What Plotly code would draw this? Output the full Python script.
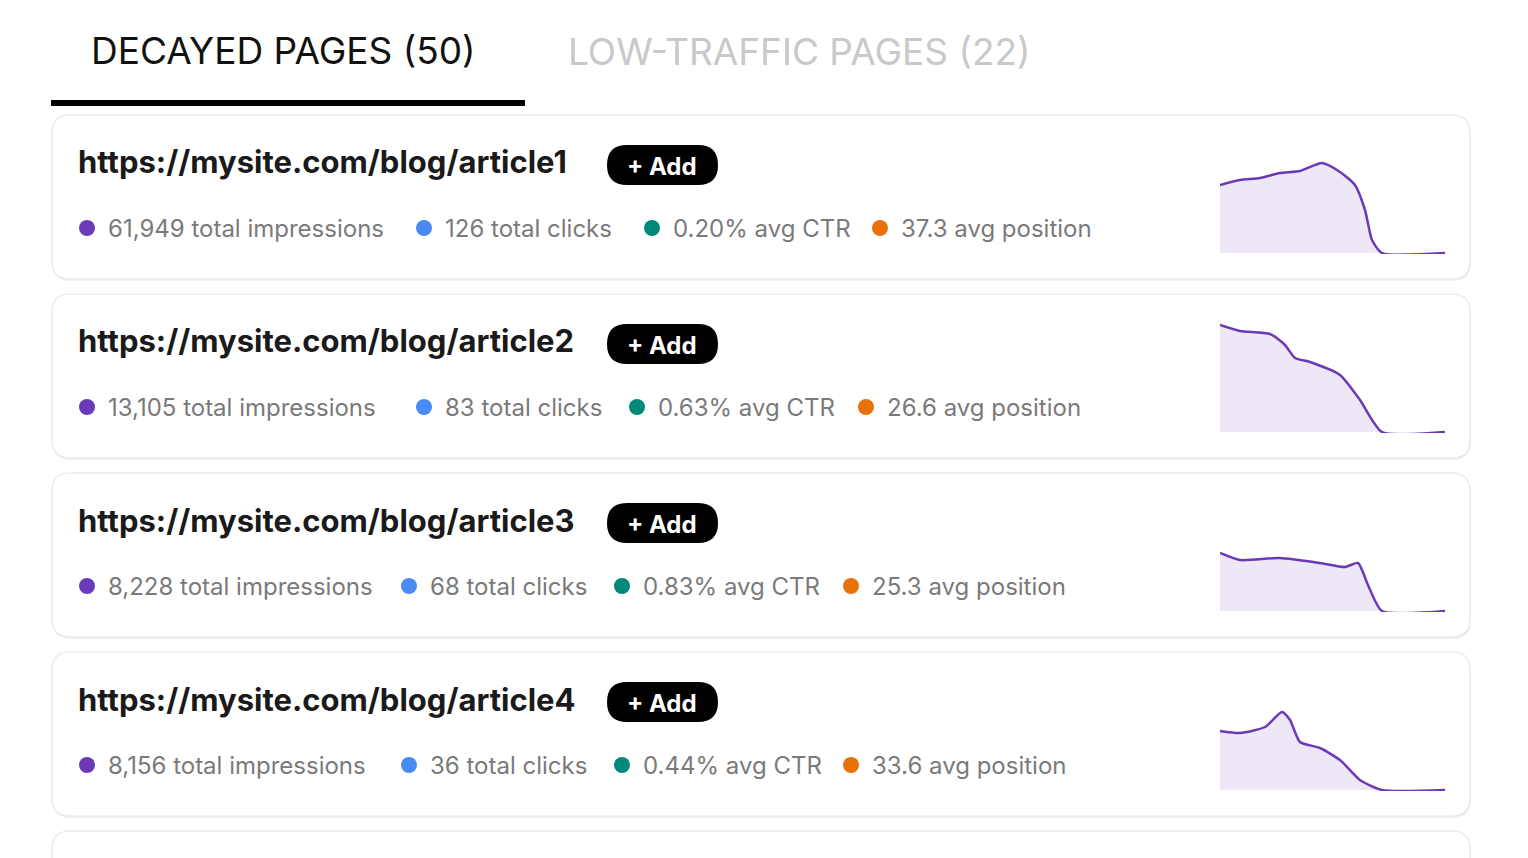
import plotly.graph_objects as go

W, H = 1528, 858
urls = ["https://mysite.com/blog/article1", "https://mysite.com/blog/article2",
        "https://mysite.com/blog/article3", "https://mysite.com/blog/article4"]
impressions = ["61,949", "13,105", "8,228", "8,156"]
clicks = ["126", "83", "68", "36"]
ctr = ["0.20%", "0.63%", "0.83%", "0.44%"]
position = ["37.3", "26.6", "25.3", "33.6"]

spark_x = [
    [0, 4, 8, 12, 16, 20.4, 24, 27, 29, 30.4, 32.4, 45],
    [0, 4, 10, 13, 15, 18, 24, 28, 32.4, 45],
    [0, 4, 12, 20, 25, 27.6, 29.6, 32.4, 45],
    [0, 4, 9, 12.4, 14, 16, 20, 24, 28, 32.4, 45],
]
spark_y = [
    [68, 73, 75, 80, 82, 90, 81, 68, 43, 13, 0, 0],
    [107, 101, 98, 87, 74, 70, 57, 32, 0, 0],
    [58, 51, 53, 48, 44, 48, 26, 0, 0],
    [59, 57, 63, 78, 70, 48, 42, 30, 10, 0, 0],
]

card_top = [115, 294, 473, 652, 831]
card_h = 164
spark_base = [253, 432, 611, 790]
dot_x = [[87, 424, 652, 880], [87, 424, 637, 866], [87, 409, 622, 851], [87, 409, 622, 851]]
dot_colors = ["#6a3ab8", "#4a8af4", "#00897b", "#e8710a"]

def px(x): return x / W
def py(y): return 1 - y / H

def path_paper(x0, y0, x1, y1, r):
    p = (f"M {x0+r},{y0} L {x1-r},{y0} Q {x1},{y0} {x1},{y0+r} L {x1},{y1-r} "
         f"Q {x1},{y1} {x1-r},{y1} L {x0+r},{y1} Q {x0},{y1} {x0},{y1-r} "
         f"L {x0},{y0+r} Q {x0},{y0} {x0+r},{y0} Z")
    out = []
    for t in p.split():
        if "," in t:
            a, b = t.split(",")
            out.append(f"{px(float(a)):.5f},{py(float(b)):.5f}")
        else:
            out.append(t)
    return " ".join(out)

fig = go.Figure()
shapes, ann = [], []

def A(**kw):
    kw.setdefault("xref", "paper"); kw.setdefault("yref", "paper")
    kw.setdefault("showarrow", False)
    ann.append(kw)

for t in card_top:
    shapes.append(dict(type="path", xref="paper", yref="paper",
                       path=path_paper(53, t + 2, 1471, t + card_h + 2, 18),
                       fillcolor="#f2f2f2", line=dict(width=0), layer="below"))
    shapes.append(dict(type="path", xref="paper", yref="paper",
                       path=path_paper(52, t, 1470, t + card_h, 18),
                       fillcolor="white", line=dict(color="#e6e6e6", width=1.2), layer="below"))

shapes.append(dict(type="rect", xref="paper", yref="paper", x0=px(51), x1=px(525),
                   y0=py(106), y1=py(100), fillcolor="black", line=dict(width=0)))
A(x=px(89), y=py(50), text="DECAYED PAGES (50)", xanchor="left", yanchor="middle",
  font=dict(size=37, color="#111"))
A(x=px(566), y=py(52), text="LOW-TRAFFIC PAGES (22)", xanchor="left", yanchor="middle",
  font=dict(size=37, color="#c9c9c9"))

for i in range(4):
    t = card_top[i]
    A(x=px(76), y=py(t + 47), text=f"<b>{urls[i]}</b>", xanchor="left", yanchor="middle",
      font=dict(size=31, color="#1a1a1a"))
    shapes.append(dict(type="path", xref="paper", yref="paper",
                       path=path_paper(607, t + 30, 718, t + 70, 20),
                       fillcolor="black", line=dict(width=0)))
    A(x=px(662), y=py(t + 51), text="<b>+ Add</b>", xanchor="center", yanchor="middle",
      font=dict(size=24, color="white"))
    labels = [f"{impressions[i]} total impressions", f"{clicks[i]} total clicks",
              f"{ctr[i]} avg CTR", f"{position[i]} avg position"]
    yc = t + 113
    for j in range(4):
        shapes.append(dict(type="circle", xref="paper", yref="paper",
                           x0=px(dot_x[i][j] - 8), x1=px(dot_x[i][j] + 8),
                           y0=py(yc + 8), y1=py(yc - 8),
                           fillcolor=dot_colors[j], line=dict(width=0)))
        A(x=px(dot_x[i][j] + 19), y=py(yc), text=labels[j], xanchor="left", yanchor="middle",
          font=dict(size=24, color="#7a7a7a"))

    ax = "" if i == 0 else str(i + 1)
    fig.add_trace(go.Scatter(x=spark_x[i], y=spark_y[i], mode="lines",
                             line=dict(color="#6a3ab8", width=2.5, shape="spline", smoothing=0.6),
                             fill="tozeroy", fillcolor="rgba(106,58,184,0.12)",
                             xaxis="x" + ax, yaxis="y" + ax, showlegend=False, hoverinfo="skip",
                             cliponaxis=True))
    b = spark_base[i]
    fig.layout["xaxis" + ax] = dict(domain=[px(1220), px(1445)], range=[0, 45], visible=False,
                                    anchor="y" + ax)
    fig.layout["yaxis" + ax] = dict(domain=[py(b + 1), py(b - 110)], range=[-1, 110], visible=False,
                                    anchor="x" + ax)

fig.update_layout(width=W, height=H, margin=dict(l=0, r=0, t=0, b=0),
                  paper_bgcolor="white", plot_bgcolor="rgba(0,0,0,0)",
                  font=dict(family="Inter, Roboto, sans-serif"),
                  shapes=shapes, annotations=ann)
fig.write_html("out.html", config={"displayModeBar": False})

with open("out.html", encoding="utf-8") as f:
    html = f.read()
html = html.replace("<head>", "<head><style>html,body{margin:0;padding:0;overflow:hidden}</style>", 1)
with open("out.html", "w", encoding="utf-8") as f:
    f.write(html)
